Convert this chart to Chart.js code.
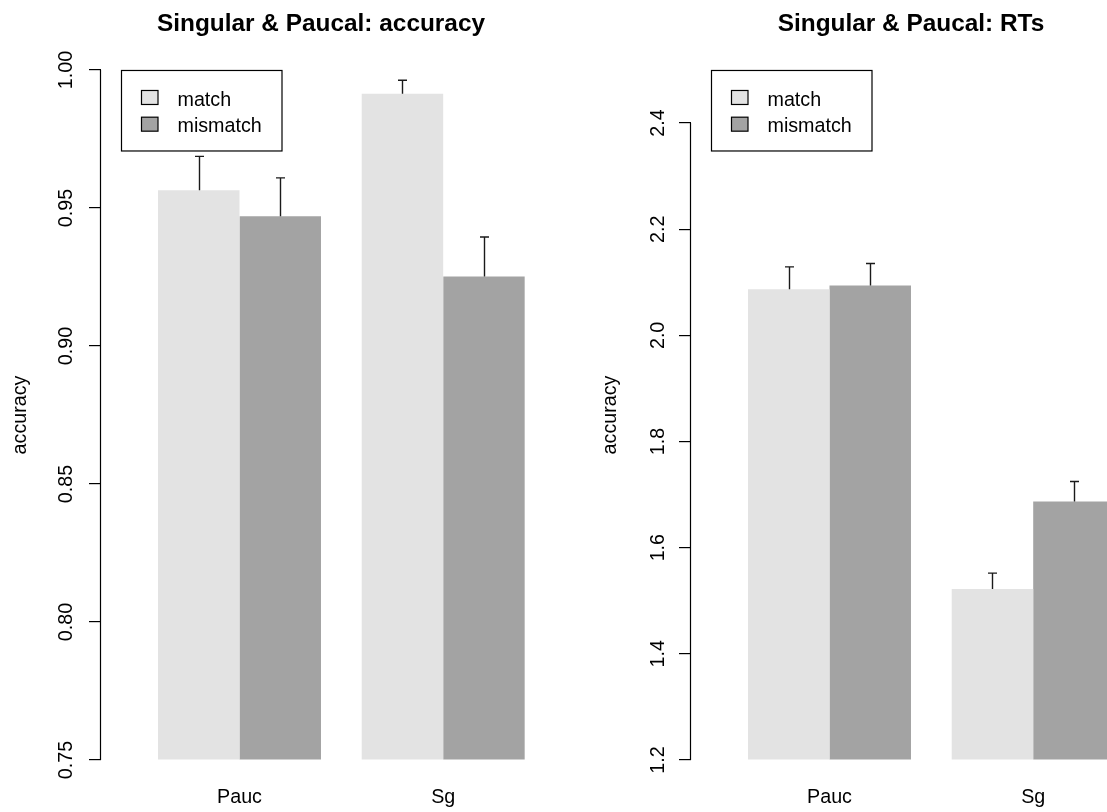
<!DOCTYPE html>
<html><head><meta charset="utf-8">
<script src="https://cdn.jsdelivr.net/npm/chart.js@4/dist/chart.umd.min.js"></script>
<style>
html,body{margin:0;padding:0;background:#fff;overflow:hidden;width:1107px;height:812px;}
canvas{position:absolute;top:0;}
#c1{left:0px}
#c2{left:590px}
</style></head><body>
<canvas id="c1" width="642" height="812"></canvas>
<canvas id="c2" width="642" height="812"></canvas>
<script>
// ---- data ----
const categories = ['Pauc', 'Sg'];
const seriesNames = ['match', 'mismatch'];
const seriesColors = ['#e3e3e3', '#a3a3a3'];

const accMatch = [0.9564, 0.9914];
const accMatchSE = [0.0123, 0.0049];
const accMismatch = [0.9470, 0.9252];
const accMismatchSE = [0.0139, 0.0143];

const rtMatch = [2.087, 1.522];
const rtMatchSE = [0.042, 0.030];
const rtMismatch = [2.094, 1.687];
const rtMismatchSE = [0.0415, 0.0377];

const accTicks = [0.75, 0.80, 0.85, 0.90, 0.95, 1.00];
const accTickLabels = ['0.75', '0.80', '0.85', '0.90', '0.95', '1.00'];
const rtTicks = [1.2, 1.4, 1.6, 1.8, 2.0, 2.2, 2.4];
const rtTickLabels = ['1.2', '1.4', '1.6', '1.8', '2.0', '2.2', '2.4'];

// ---- rendering ----
const FAMILY = "'Liberation Sans', Arial, Helvetica, sans-serif";
const AXFONT = 19.7;

const errorBars = {
  id: 'errorBars',
  afterDatasetsDraw(chart) {
    const ctx = chart.ctx, ys = chart.scales.y;
    ctx.save();
    ctx.strokeStyle = '#1a1a1a';
    ctx.lineWidth = 1.4;
    chart.data.datasets.forEach((ds, di) => {
      const meta = chart.getDatasetMeta(di);
      meta.data.forEach((bar, j) => {
        const x = Math.round(bar.x) + 0.5;
        const y0 = bar.y;
        const y1 = ys.getPixelForValue(ds.data[j].y + ds.errors[j]);
        ctx.beginPath();
        ctx.moveTo(x, y0); ctx.lineTo(x, y1);
        ctx.moveTo(x - 4.5, y1); ctx.lineTo(x + 4.5, y1);
        ctx.stroke();
      });
    });
    ctx.restore();
  }
};

const rAxis = {
  id: 'rAxis',
  afterDraw(chart) {
    const ctx = chart.ctx, ys = chart.scales.y, a = chart.chartArea;
    const t = chart.options.plugins.rAxis.ticks;
    const x = Math.round(a.left) - 0.5;
    ctx.save();
    ctx.strokeStyle = '#000';
    ctx.lineWidth = 1.2;
    ctx.beginPath();
    ctx.moveTo(x, ys.getPixelForValue(t[0]));
    ctx.lineTo(x, ys.getPixelForValue(t[t.length - 1]));
    ctx.stroke();
    ctx.restore();
  }
};

const boxLegend = {
  id: 'boxLegend',
  afterDraw(chart) {
    const ctx = chart.ctx, a = chart.chartArea;
    const bx = a.left + 20.5, by = a.top + 0.5, bw = 160.5, bh = 80.5;
    ctx.save();
    ctx.strokeStyle = '#000';
    ctx.lineWidth = 1.2;
    ctx.strokeRect(bx, by, bw, bh);
    ctx.font = AXFONT + 'px ' + FAMILY;
    ctx.textBaseline = 'middle';
    ctx.textAlign = 'left';
    chart.data.datasets.forEach((ds, i) => {
      const cy = by + 27 + i * 26.7;
      ctx.fillStyle = ds.backgroundColor;
      ctx.fillRect(bx + 20, cy - 7, 16.5, 14);
      ctx.lineWidth = 1.2;
      ctx.strokeRect(bx + 20, cy - 7, 16.5, 14);
      ctx.fillStyle = '#000';
      ctx.fillText(ds.label, bx + 56, cy + 2.7);
    });
    ctx.restore();
  }
};

function makeChart(id, title, yMin, yMax, ticks, tickLabels, vals, ses, tickPad) {
  const datasets = seriesNames.map((name, s) => ({
    label: name,
    data: categories.map((c, i) => ({ x: i + 1, y: vals[s][i] })),
    errors: ses[s],
    backgroundColor: seriesColors[s],
    borderWidth: 0,
    base: yMin,
    categoryPercentage: 0.8,
    barPercentage: 1.0
  }));
  return new Chart(document.getElementById(id), {
    type: 'bar',
    data: { datasets },
    options: {
      responsive: false,
      animation: false,
      devicePixelRatio: 1,
      layout: { padding: { left: 0, right: 0, top: 0, bottom: 0 } },
      plugins: {
        legend: { display: false },
        tooltip: { enabled: false },
        title: {
          display: true, text: title, color: '#000',
          font: { family: FAMILY, size: 24.4, weight: 'bold', lineHeight: 1.2 },
          padding: { top: 10, bottom: 30.7 }
        },
        rAxis: { ticks }
      },
      scales: {
        x: {
          type: 'linear', min: 0.32, max: 2.976, offset: false,
          grid: { display: false, drawTicks: false, offset: false },
          border: { display: false },
          afterBuildTicks: (sc) => { sc.ticks = categories.map((c, i) => ({ value: i + 1 })); },
          afterFit: (sc) => { sc.height = 52; },
          ticks: {
            autoSkip: false, maxRotation: 0, minRotation: 0, padding: 26,
            color: '#000', font: { family: FAMILY, size: AXFONT },
            callback: (v) => categories[Math.round(v) - 1]
          }
        },
        y: {
          type: 'linear', min: yMin, max: yMax, beginAtZero: false,
          grid: { display: true, drawOnChartArea: false, drawTicks: true, tickLength: 12, color: '#000', lineWidth: 1.2 },
          border: { display: false },
          afterBuildTicks: (sc) => { sc.ticks = ticks.map(v => ({ value: v })); },
          afterFit: (sc) => { sc.width = 101; },
          title: {
            display: true, text: 'accuracy', color: '#000',
            font: { family: FAMILY, size: AXFONT, lineHeight: 1.2 },
            padding: { top: 9, bottom: 0 }
          },
          ticks: {
            autoSkip: false, minRotation: 90, maxRotation: 90,
            crossAlign: 'center', padding: tickPad,
            color: '#000', font: { family: FAMILY, size: AXFONT },
            callback: (v, i) => tickLabels[i]
          }
        }
      }
    },
    plugins: [errorBars, rAxis, boxLegend]
  });
}

makeChart('c1', 'Singular & Paucal: accuracy', 0.75, 1.0, accTicks, accTickLabels,
  [accMatch, accMismatch], [accMatchSE, accMismatchSE], 3);
makeChart('c2', 'Singular & Paucal: RTs', 1.2, 2.5, rtTicks, rtTickLabels,
  [rtMatch, rtMismatch], [rtMatchSE, rtMismatchSE], 6.4);
</script>
</body></html>
